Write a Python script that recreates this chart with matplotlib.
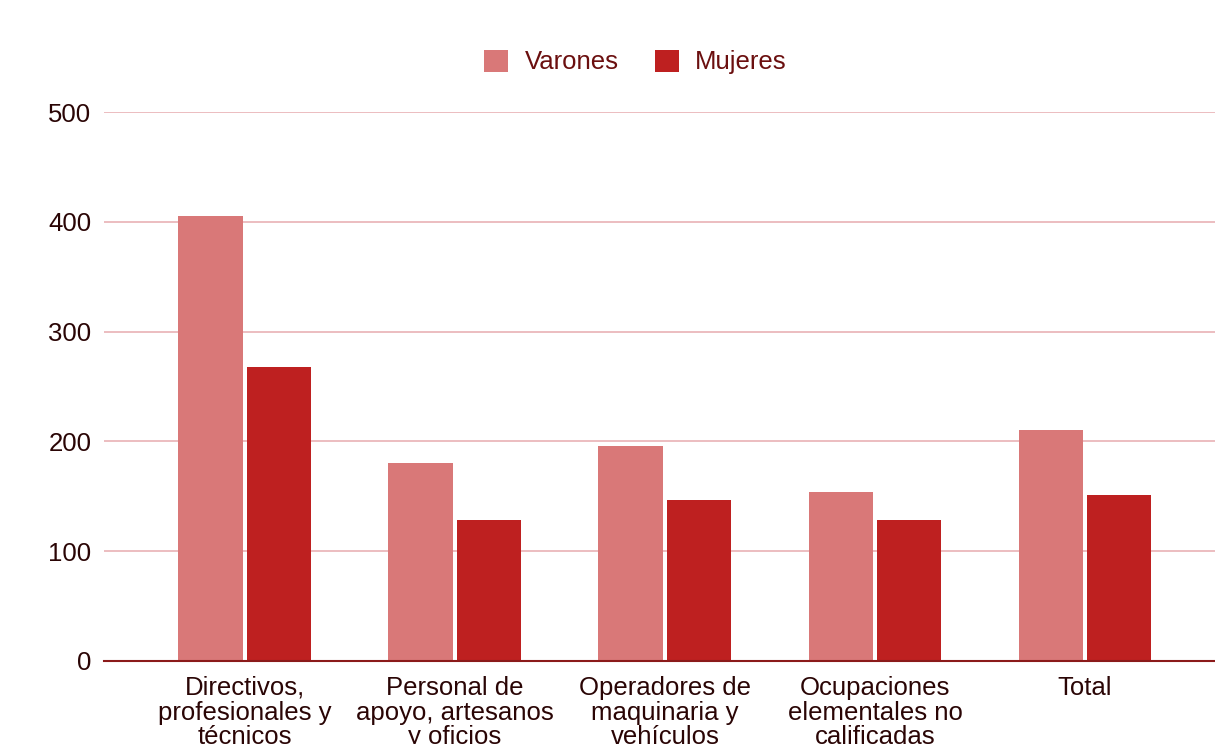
import matplotlib.pyplot as plt
import numpy as np

plt.rcParams['font.family'] = ['Liberation Sans', 'DejaVu Sans']

# data
categories = ['Directivos,\nprofesionales y\ntécnicos',
              'Personal de\napoyo, artesanos\ny oficios',
              'Operadores de\nmaquinaria y\nvehículos',
              'Ocupaciones\nelementales no\ncalificadas',
              'Total']
varones = [405, 180, 196, 154, 210]
mujeres = [268, 128, 147, 128, 151]
yticks = [0, 100, 200, 300, 400, 500]

c_var = '#d97878'
c_muj = '#be2020'

fig = plt.figure(figsize=(12.15, 7.44), dpi=100)
ax = fig.add_axes([104 / 1215, 1 - 661 / 744, 1 - 104 / 1215, (661 - 112) / 744])

x = np.arange(len(categories))
w = 0.305
off = 0.164
b1 = ax.bar(x - off, varones, w, color=c_var, label='Varones', zorder=3)
b2 = ax.bar(x + off, mujeres, w, color=c_muj, label='Mujeres', zorder=3)

ax.set_xlim(-0.671, 4.619)
ax.set_ylim(0, 500)
ax.set_yticks(yticks)
ax.set_yticklabels([str(t) for t in yticks], fontsize=18.5, color='#2a0505')
ax.tick_params(axis='y', length=0, pad=9)
ax.set_xticks(x)
ax.set_xticklabels(categories, fontsize=18.5, color='#2a0505', linespacing=1.05)
ax.tick_params(axis='x', length=0, pad=10.5)

ax.grid(axis='y', color='#ebb8bb', linewidth=1.3, zorder=0)
for s in ['top', 'right', 'left']:
    ax.spines[s].set_visible(False)
ax.spines['bottom'].set_color('#8b1a1a')
ax.spines['bottom'].set_linewidth(1.5)
ax.spines['bottom'].set_zorder(4)

leg = fig.legend(handles=[b1, b2], loc='center', bbox_to_anchor=(0.523, 1 - 62 / 744),
                 ncol=2, frameon=False, fontsize=18.5, handlelength=0.95, handleheight=0.95,
                 columnspacing=1.4, handletextpad=0.63)
for t in leg.get_texts():
    t.set_color('#6b0f0f')

fig.savefig('out.png', dpi=100, facecolor='white')
